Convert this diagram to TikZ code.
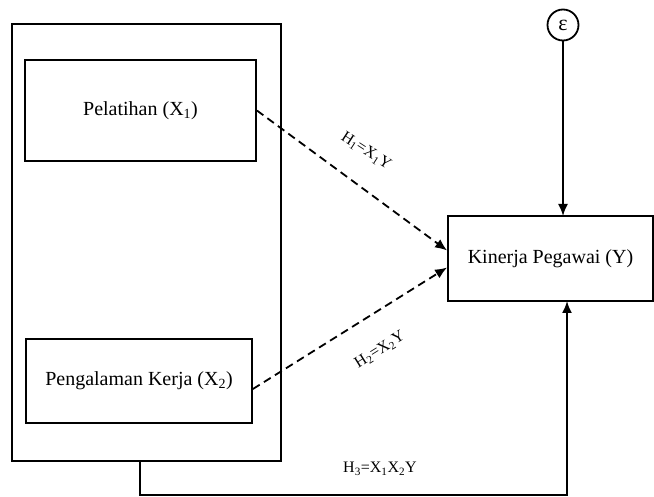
\documentclass[tikz,border=0pt]{standalone}
\usepackage{fontspec}
\setmainfont{Liberation Serif}
\usetikzlibrary{arrows.meta}

\begin{document}
\begin{tikzpicture}[x=1pt,y=-1pt,line width=1.8pt,>={Latex[length=12pt,width=10pt]},
  varbox/.style={draw,inner sep=0pt,font=\fontsize{20}{23}\selectfont},
  hyplabel/.style={font=\fontsize{16}{18}\selectfont,inner sep=0pt},
  dashline/.style={dash pattern=on 8pt off 5pt}]
\useasboundingbox (0,0) rectangle (654,497);
\node[draw,minimum width=269pt,minimum height=437pt] (outer) at (146.5,242.5) {};
\node[varbox,minimum width=231pt,minimum height=101pt] (pel) at (140.5,110.5) {Pelatihan (X\textsubscript{1})};
\node[varbox,minimum width=226pt,minimum height=84pt] (peng) at (139,381) {Pengalaman Kerja (X\textsubscript{2})};
\node[varbox,minimum width=205pt,minimum height=85pt] (kin) at (550.5,258.5) {Kinerja Pegawai (Y)};
\node[draw,circle,minimum size=31pt,inner sep=0pt,font=\fontsize{22}{24}\selectfont] (eps) at (563,25) {ε};
%\draw[help lines] (0,0) grid[step=50pt] (654,497);
\coordinate (epsend) at (563,216);
\coordinate (kinb) at (567,301);
\coordinate (b1) at (140,461);
\coordinate (turn) at (140,495);
\draw[->] (eps) -- (epsend);
\draw[->,dashline] (pel.east) -- ([yshift=8pt]kin.west);
\draw[->,dashline] ([yshift=-8pt]peng.east) -- ([yshift=-9pt]kin.west);
\draw[->] (b1) -- (turn) -| (kinb);
\node[hyplabel,rotate=-33] (h1) at (366,151) {H\textsubscript{1}=X\textsubscript{1}Y};
\node[hyplabel,rotate=32] (h2) at (380,350) {H\textsubscript{2}=X\textsubscript{2}Y};
\node[hyplabel] (h3) at (380,469) {H\textsubscript{3}=X\textsubscript{1}X\textsubscript{2}Y};
\end{tikzpicture}
\end{document}
